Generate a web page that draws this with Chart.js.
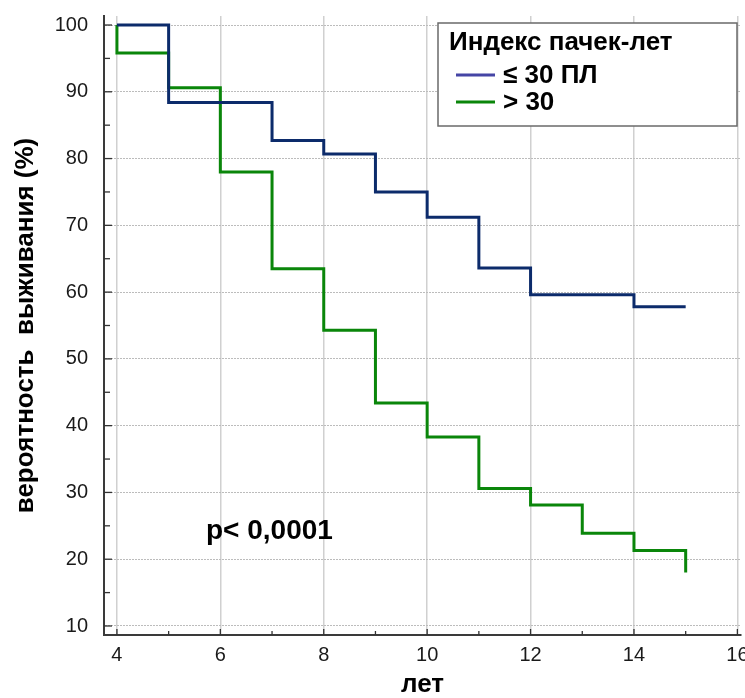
<!DOCTYPE html>
<html>
<head>
<meta charset="utf-8">
<script src="https://cdn.jsdelivr.net/npm/chart.js@4"></script>
<style>
html, body { margin: 0; padding: 0; background: #fff; }
</style>
</head>
<body>
<canvas id="myChart" width="745" height="698"></canvas>
<script>
// Kaplan-Meier steps
const years_low = [4, 5, 7, 8, 9, 10, 11, 12, 14, 15];
const surv_low = [100, 88.4, 82.7, 80.7, 75.0, 71.2, 63.6, 59.6, 57.8, 57.8];
const years_high = [4, 4, 5, 6, 7, 8, 9, 10, 11, 12, 13, 14, 15, 15];
const surv_high = [100, 95.8, 90.6, 78.0, 63.5, 54.3, 43.4, 38.3, 30.6, 28.1, 23.9, 21.3, 21.3, 18.0];
const series_names = ["≤ 30 ПЛ", "> 30"];
const series_colors = ["#0c2b6b", "#0a860a"];
const legend_colors = ["#4545a5", "#0a860a"];
const legend_title = "Индекс пачек-лет";
const x_ticks = [4, 6, 8, 10, 12, 14, 16];
const y_ticks = [10, 20, 30, 40, 50, 60, 70, 80, 90, 100];
const p_label = "p< 0,0001";

const FONT = "'Liberation Sans', Arial, sans-serif";

function toPoints(xs, ys) {
    const pts = [];
    for (let i = 0; i < xs.length; i++) pts.push({ x: xs[i], y: ys[i] });
    return pts;
}

// inner tick marks, legend box and p-value
const extras = {
    id: "extras",
    afterDraw(chart) {
        const ctx = chart.ctx;
        const xs = chart.scales.x;
        const ys = chart.scales.y;
        const area = chart.chartArea;
        ctx.save();
        ctx.strokeStyle = "#333";
        ctx.lineWidth = 1.3;
        for (let v = 4; v <= 16; v++) {
            const px = xs.getPixelForValue(v);
            const len = x_ticks.includes(v) ? 6 : 4;
            ctx.beginPath();
            ctx.moveTo(px, area.bottom);
            ctx.lineTo(px, area.bottom - len);
            ctx.stroke();
        }
        for (let v = 10; v <= 100; v += 5) {
            const py = ys.getPixelForValue(v);
            const len = y_ticks.includes(v) ? 8 : 6;
            ctx.beginPath();
            ctx.moveTo(area.left, py);
            ctx.lineTo(area.left + len, py);
            ctx.stroke();
        }

        // p-value
        ctx.fillStyle = "#000";
        ctx.font = "bold 28px " + FONT;
        ctx.textAlign = "center";
        ctx.textBaseline = "middle";
        ctx.fillText(p_label, xs.getPixelForValue(6.95), ys.getPixelForValue(24.2));

        // legend box
        const bx = 438, by = 23, bw = 299, bh = 103;
        ctx.fillStyle = "#fff";
        ctx.fillRect(bx, by, bw, bh);
        ctx.strokeStyle = "#6a6a6a";
        ctx.lineWidth = 1.5;
        ctx.strokeRect(bx, by, bw, bh);
        ctx.fillStyle = "#000";
        ctx.textAlign = "left";
        ctx.font = "bold 26px " + FONT;
        ctx.fillText(legend_title, bx + 11, by + 20);
        for (let i = 0; i < series_names.length; i++) {
            const ly = by + 52 + i * 27;
            ctx.strokeStyle = legend_colors[i];
            ctx.lineWidth = 3;
            ctx.beginPath();
            ctx.moveTo(bx + 18, ly);
            ctx.lineTo(bx + 57, ly);
            ctx.stroke();
            ctx.fillText(series_names[i], bx + 65, ly + 1);
        }
        ctx.restore();
    }
};

const myChart = new Chart("myChart", {
    type: "line",
    data: {
        datasets: [{
            label: series_names[0],
            data: toPoints(years_low, surv_low),
            borderColor: series_colors[0],
            borderWidth: 3,
            stepped: "before",
            pointRadius: 0,
            fill: false
        }, {
            label: series_names[1],
            data: toPoints(years_high, surv_high),
            borderColor: series_colors[1],
            borderWidth: 3,
            stepped: "before",
            pointRadius: 0,
            fill: false
        }]
    },
    options: {
        responsive: false,
        animation: false,
        layout: { autoPadding: false, padding: { left: 0, right: 4, top: 16, bottom: 0 } },
        plugins: {
            legend: { display: false },
            tooltip: { enabled: false }
        },
        scales: {
            x: {
                type: "linear",
                min: 3.75,
                max: 16.07,
                afterBuildTicks: scale => {
                    const t = [];
                    for (let v = 4; v <= 16; v++) t.push({ value: v });
                    scale.ticks = t;
                },
                afterFit: scale => {
                    scale.height = 63;
                    scale.paddingLeft = 0;
                    scale.paddingRight = 0;
                },
                ticks: {
                    autoSkip: false,
                    maxRotation: 0,
                    padding: 8,
                    color: "#1a1a1a",
                    font: { family: FONT, size: 20 },
                    callback: v => x_ticks.includes(v) ? String(v) : ""
                },
                grid: {
                    drawTicks: false,
                    lineWidth: 1.5,
                    color: c => (c.tick && x_ticks.includes(c.tick.value)) ? "#d0d0d0" : "rgba(0,0,0,0)"
                },
                border: { display: true, color: "#3a3a3a", width: 2 },
                title: {
                    display: true,
                    text: "лет",
                    color: "#000",
                    padding: { top: 0, bottom: 0 },
                    font: { family: FONT, size: 26, weight: "bold", lineHeight: 1 }
                }
            },
            y: {
                type: "linear",
                min: 8.65,
                max: 101.35,
                afterBuildTicks: scale => {
                    const t = [];
                    for (let v = 10; v <= 100; v += 5) t.push({ value: v });
                    scale.ticks = t;
                },
                afterFit: scale => {
                    scale.width = 104;
                    scale.paddingTop = 0;
                    scale.paddingBottom = 0;
                },
                ticks: {
                    autoSkip: false,
                    padding: 16,
                    color: "#1a1a1a",
                    font: { family: FONT, size: 20 },
                    callback: v => y_ticks.includes(v) ? String(v) : ""
                },
                grid: {
                    drawTicks: false,
                    lineWidth: 1,
                    color: c => (c.tick && y_ticks.includes(c.tick.value)) ? "#bcbcbc" : "rgba(0,0,0,0)"
                },
                border: { display: true, color: "#3a3a3a", width: 2, dash: [2, 1] },
                title: {
                    display: true,
                    text: "вероятность  выживания (%)",
                    color: "#000",
                    padding: { top: 13, bottom: 0 },
                    font: { family: FONT, size: 26, weight: "bold", lineHeight: 1 }
                }
            }
        }
    },
    plugins: [extras]
});
</script>
</body>
</html>
